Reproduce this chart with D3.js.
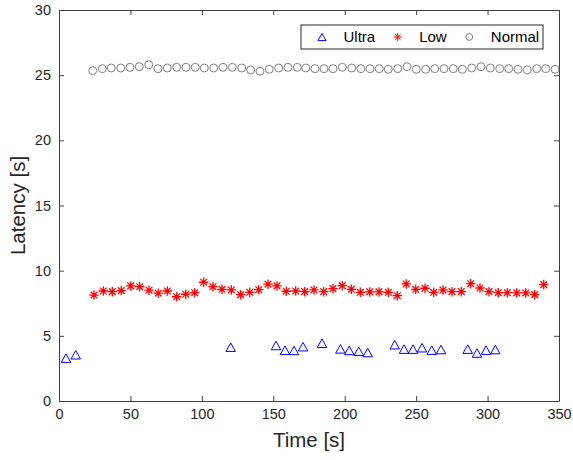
<!DOCTYPE html>
<html lang="en">
<head>
    <meta charset="UTF-8">
    <title>Latency over time</title>
    <script src="https://cdnjs.cloudflare.com/ajax/libs/d3/7.9.0/d3.min.js"></script>
    <style>
        body {
            margin: 0;
            background: #fff;
            font-family: "Liberation Sans", Arial, sans-serif;
        }
        .axis text {
            font-size: 14.5px;
            fill: #262626;
        }
        .axis path, .axis line {
            stroke: #404040;
        }
        .axis-label {
            font-size: 20.5px;
            fill: #262626;
            text-anchor: middle;
        }
        .legend text {
            font-size: 15px;
            fill: #000;
        }
    </style>
</head>
<body>
    <div id="chart"></div>
    <script>
        const ultraTime = [4.9, 11.7, 120.2, 151.9, 158.2, 164.5, 170.8, 184.1, 197.0, 203.2, 209.8, 216.1,
            235.0, 241.5, 247.8, 254.1, 260.9, 267.4, 286.1, 292.6, 298.9, 305.4];
        const ultraLatency = [3.29, 3.55, 4.13, 4.26, 3.90, 3.88, 4.17, 4.43, 4.00, 3.88, 3.82, 3.72,
            4.32, 3.98, 3.98, 4.09, 3.90, 3.95, 3.98, 3.68, 3.90, 3.95];

        const lowTime = [24.5, 31.0, 37.3, 43.6, 50.2, 56.5, 63.0, 69.5, 75.8, 82.4, 88.7, 95.0, 101.3,
            107.8, 114.1, 120.6, 127.2, 133.5, 139.8, 146.3, 152.6, 159.1, 165.7, 172.0, 178.5,
            185.3, 191.8, 198.3, 204.6, 210.9, 217.5, 224.0, 230.5, 236.8, 243.1, 249.7, 256.2,
            262.3, 268.8, 275.1, 281.6, 288.2, 294.7, 301.0, 307.5, 313.8, 320.4, 326.7, 333.0, 339.3];
        const lowLatency = [8.13, 8.44, 8.39, 8.47, 8.83, 8.77, 8.50, 8.27, 8.44, 8.00, 8.19, 8.31, 9.11,
            8.77, 8.57, 8.52, 8.16, 8.34, 8.54, 8.96, 8.83, 8.42, 8.44, 8.39, 8.52,
            8.39, 8.62, 8.85, 8.57, 8.34, 8.37, 8.37, 8.34, 8.08, 8.98, 8.57, 8.65,
            8.34, 8.52, 8.39, 8.39, 9.00, 8.67, 8.39, 8.31, 8.31, 8.29, 8.29, 8.16, 8.93];

        const normalTime = [23.6, 30.3, 36.6, 43.2, 49.7, 56.2, 62.8, 69.3, 75.8, 82.4, 88.9, 95.4, 101.7,
            108.3, 114.8, 121.3, 127.9, 134.2, 140.7, 147.2, 153.8, 160.3, 166.8, 172.7, 179.2,
            185.5, 191.8, 198.3, 204.9, 211.4, 217.7, 224.2, 230.5, 237.1, 243.6, 250.1, 256.7,
            263.0, 269.5, 276.0, 282.3, 288.9, 295.4, 301.9, 308.5, 314.8, 321.3, 327.8, 334.4, 340.7, 347.2];
        const normalLatency = [25.35, 25.5, 25.55, 25.55, 25.6, 25.65, 25.8, 25.5, 25.55, 25.6, 25.6, 25.6, 25.55,
            25.55, 25.6, 25.6, 25.55, 25.4, 25.3, 25.45, 25.55, 25.6, 25.6, 25.55, 25.5,
            25.5, 25.5, 25.6, 25.55, 25.5, 25.5, 25.5, 25.45, 25.5, 25.65, 25.45, 25.45,
            25.5, 25.5, 25.5, 25.45, 25.55, 25.65, 25.55, 25.5, 25.5, 25.45, 25.4, 25.5, 25.5, 25.45];

        const xTicks = [0, 50, 100, 150, 200, 250, 300, 350];
        const yTicks = [0, 5, 10, 15, 20, 25, 30];

        const width = 573;
        const height = 460;
        const margin = { top: 10, right: 14, bottom: 59, left: 59 };
        const innerW = width - margin.left - margin.right;
        const innerH = height - margin.top - margin.bottom;

        const svg = d3.select("#chart")
            .append("svg")
            .attr("width", width)
            .attr("height", height);

        const g = svg.append("g")
            .attr("transform", `translate(${margin.left},${margin.top})`);

        const x = d3.scaleLinear().domain([0, 350]).range([0, innerW]);
        const y = d3.scaleLinear().domain([0, 30]).range([innerH, 0]);

        // boxed axes, ticks pointing inward on every side
        g.append("g")
            .attr("class", "axis")
            .attr("transform", `translate(0,${innerH})`)
            .call(d3.axisBottom(x).tickValues(xTicks).tickSizeInner(-5).tickSizeOuter(0).tickPadding(8));
        g.append("g")
            .attr("class", "axis")
            .call(d3.axisTop(x).tickValues(xTicks).tickSizeInner(-5).tickSizeOuter(0).tickFormat(""));
        g.append("g")
            .attr("class", "axis")
            .call(d3.axisLeft(y).tickValues(yTicks).tickSizeInner(-5).tickSizeOuter(0).tickPadding(8));
        g.append("g")
            .attr("class", "axis")
            .attr("transform", `translate(${innerW},0)`)
            .call(d3.axisRight(y).tickValues(yTicks).tickSizeInner(-5).tickSizeOuter(0).tickFormat(""));

        // marker shapes
        const triangle = {
            draw(ctx, size) {
                const w = Math.sqrt(size);
                const h = w * 0.9;
                ctx.moveTo(0, -h / 2);
                ctx.lineTo(w / 2, h / 2);
                ctx.lineTo(-w / 2, h / 2);
                ctx.closePath();
            }
        };
        const asterisk = {
            draw(ctx, size) {
                const r = Math.sqrt(size) / 2;
                const d = r * Math.SQRT1_2;
                ctx.moveTo(-r, 0); ctx.lineTo(r, 0);
                ctx.moveTo(0, -r); ctx.lineTo(0, r);
                ctx.moveTo(-d, -d); ctx.lineTo(d, d);
                ctx.moveTo(-d, d); ctx.lineTo(d, -d);
            }
        };

        const series = [
            { name: "Ultra", time: ultraTime, values: ultraLatency, color: "#0000ff", shape: triangle, size: 90, sw: 1 },
            { name: "Low", time: lowTime, values: lowLatency, color: "#ff0000", shape: asterisk, size: 90, sw: 1.3 },
            { name: "Normal", time: normalTime, values: normalLatency, color: "#808080", shape: d3.symbolCircle, size: 50, sw: 1 }
        ];

        series.forEach(s => {
            const pts = s.time.map((t, i) => [t, s.values[i]]);
            g.selectAll(null)
                .data(pts)
                .enter()
                .append("path")
                .attr("transform", d => `translate(${x(d[0])},${y(d[1])})`)
                .attr("d", d3.symbol().type(s.shape).size(s.size))
                .attr("fill", "none")
                .attr("stroke", s.color)
                .attr("stroke-width", s.sw);
        });

        // axis labels
        svg.append("text")
            .attr("class", "axis-label")
            .attr("x", margin.left + innerW / 2)
            .attr("y", 447)
            .text("Time [s]");
        svg.append("text")
            .attr("class", "axis-label")
            .attr("transform", `translate(25,${margin.top + innerH / 2}) rotate(-90)`)
            .text("Latency [s]");

        // legend
        const legend = svg.append("g").attr("class", "legend");
        legend.append("rect")
            .attr("x", 301)
            .attr("y", 25)
            .attr("width", 242)
            .attr("height", 24)
            .attr("fill", "#fff")
            .attr("stroke", "#262626");

        const legendX = [322, 397.7, 469.3];
        series.forEach((s, i) => {
            legend.append("path")
                .attr("transform", `translate(${legendX[i]},37)`)
                .attr("d", d3.symbol().type(s.shape).size(s.name === "Normal" ? 36 : 64))
                .attr("fill", "none")
                .attr("stroke", s.color);
            legend.append("text")
                .attr("x", legendX[i] + 21.5)
                .attr("y", 37)
                .attr("dy", "0.35em")
                .text(s.name);
        });
    </script>
</body>
</html>
